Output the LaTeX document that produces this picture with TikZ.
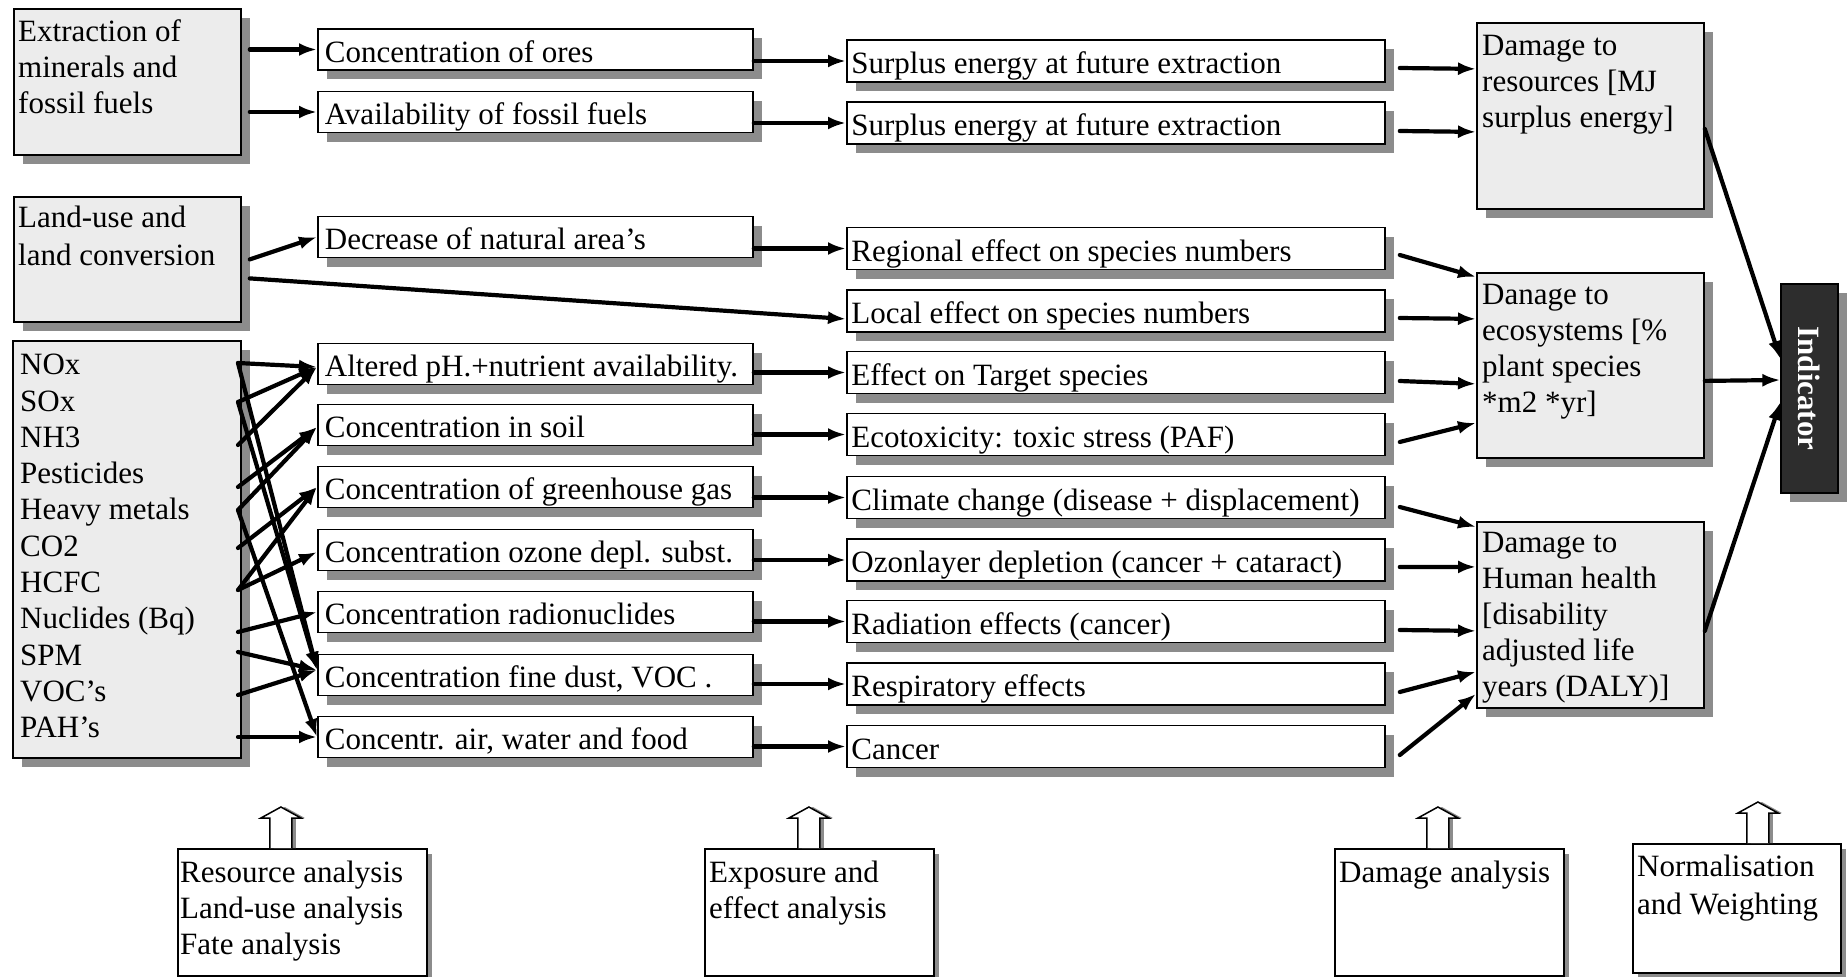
\documentclass[tikz,border=0pt]{standalone}
\usepackage{fontspec}
\setmainfont{Liberation Serif}
\usetikzlibrary{arrows.meta,shadows,calc}
\definecolor{shadowc}{RGB}{140,140,140}
\definecolor{boxgray}{RGB}{236,236,236}
\definecolor{inddark}{RGB}{45,45,45}
\newcommand{\colA}[1]{\makebox[421pt][l]{#1}}
\newcommand{\colB}[1]{\makebox[529pt][l]{#1}}
\begin{document}
\begin{tikzpicture}[x=1pt,y=-1pt,
  every node/.style={font=\fontsize{31}{36}\selectfont},
  shad/.style={drop shadow={shadow xshift=9pt,shadow yshift=-9pt,fill=shadowc,opacity=1}},
  smallshad/.style={drop shadow={shadow xshift=5pt,shadow yshift=-5pt,fill=shadowc,opacity=1}},
  graybox/.style={draw=black,line width=1.8pt,fill=boxgray,shad,inner sep=0pt,anchor=north west},
  botbox/.style={draw=black,line width=1.8pt,fill=white,smallshad,inner sep=0pt,anchor=north west},
  txt/.style={anchor=north west,inner sep=0pt,align=left},
  wboxA/.style={draw=black,line width=1.8pt,fill=white,shad,anchor=west,minimum height=41pt,
    inner xsep=7pt,inner ysep=0pt,text height=28pt,text depth=2.5pt},
  wboxB/.style={draw=black,line width=1.8pt,fill=white,shad,anchor=west,minimum height=42pt,
    inner xsep=4.5pt,inner ysep=0pt,text height=28pt,text depth=2.5pt},
  conn/.style={line width=4.2pt,line cap=round,-{Latex[length=18pt,width=13pt]}},
  hollow/.style={draw=black,line width=1.5pt,fill=white,
    drop shadow={shadow xshift=4pt,shadow yshift=0pt,fill=shadowc,opacity=1}}
]
\fill[white] (0,0) rectangle (1847,977);
\useasboundingbox (0,0) rectangle (1847,977);

% ---- left boxes
\node[graybox,minimum width=227pt,minimum height=146pt] (extr) at (13,8) {};
\node[txt] (extrt) at (18,19) {Extraction of\\minerals and\\fossil fuels};
\node[graybox,minimum width=227pt,minimum height=125pt] (land) at (13,196) {};
\node[txt,font={\fontsize{31}{38}\selectfont}] (landt) at (18,206) {Land-use and\\land conversion};
\node[graybox,minimum width=228pt,minimum height=417pt] (em) at (12,340) {};
\node[txt,font={\fontsize{31}{36.3}\selectfont}] (emt) at (20,354)
  {NOx\\SOx\\NH3\\Pesticides\\Heavy metals\\CO2\\HCFC\\Nuclides (Bq)\\SPM\\VOC’s\\PAH’s};

% ---- column 1
\node[wboxA] (ores) at (317,49.5) {\colA{Concentration of ores}};
\node[wboxA] (fos)  at (317,112)  {\colA{Availability of fossil fuels}};
\node[wboxA] (nat)  at (317,237)  {\colA{Decrease of natural area's}};
\node[wboxA] (ph)   at (317,364)  {\colA{Altered pH.+nutrient availability.}};
\node[wboxA] (soil) at (317,425)  {\colA{Concentration in soil}};
\node[wboxA] (ghg)  at (317,487)  {\colA{Concentration of greenhouse gas}};
\node[wboxA] (ozo)  at (317,550)  {\colA{Concentration ozone depl. subst.}};
\node[wboxA] (rad)  at (317,612)  {\colA{Concentration radionuclides}};
\node[wboxA] (dust) at (317,675)  {\colA{Concentration fine dust, VOC .}};
\node[wboxA] (air)  at (317,737)  {\colA{Concentr. air, water and food}};

% ---- column 2
\node[wboxB] (s1)   at (846,61)    {\colB{Surplus energy at future extraction}};
\node[wboxB] (s2)   at (846,123)   {\colB{Surplus energy at future extraction}};
\node[wboxB] (reg)  at (846,248.5) {\colB{Regional effect on species numbers}};
\node[wboxB] (loc)  at (846,311)   {\colB{Local effect on species numbers}};
\node[wboxB] (tar)  at (846,372.5) {\colB{Effect on Target species}};
\node[wboxB] (ectx) at (846,434.5) {\colB{Ecotoxicity: toxic stress (PAF)}};
\node[wboxB] (clim) at (846,497.5) {\colB{Climate change (disease + displacement)}};
\node[wboxB] (ozl)  at (846,560)   {\colB{Ozonlayer depletion (cancer + cataract)}};
\node[wboxB] (radi) at (846,621.5) {\colB{Radiation effects (cancer)}};
\node[wboxB] (resp) at (846,684)   {\colB{Respiratory effects}};
\node[wboxB] (canc) at (846,746.5) {\colB{Cancer}};

% ---- column 3
\node[graybox,minimum width=227pt,minimum height=186pt] (res) at (1476,22) {};
\node[txt] (rest) at (1482,35) {Damage to\\resources [MJ\\surplus energy]};
\node[graybox,minimum width=227pt,minimum height=185pt] (ecos) at (1476,272) {};
\node[txt] (ecost) at (1482,284) {Danage to\\ecosystems [\%\\plant species\\*m2 *yr]};
\node[graybox,minimum width=227pt,minimum height=186pt] (hum) at (1476,521) {};
\node[txt] (humt) at (1482,532) {Damage to\\Human health\\{[}disability\\adjusted life\\years (DALY)]};

% ---- indicator
\node[draw=black,line width=1.2pt,fill=inddark,shad,minimum width=57pt,minimum height=209pt,inner sep=0pt]
  (ind) at (1809.5,388.5) {};
\node[rotate=-90,text=white,inner sep=0pt,font={\fontsize{31}{36}\selectfont\bfseries}] (indt) at (ind.center) {Indicator};

% ---- bottom boxes
\node[botbox,minimum width=249pt,minimum height=127pt] (b1) at (177,848) {};
\node[txt] (b1t) at (180,861) {Resource analysis\\Land-use analysis\\Fate analysis};
\node[botbox,minimum width=229pt,minimum height=127pt] (b2) at (704,848) {};
\node[txt] (b2t) at (709,861) {Exposure and\\effect analysis};
\node[botbox,minimum width=229pt,minimum height=127pt] (b3) at (1334,848) {};
\node[txt] (b3t) at (1339,861) {Damage analysis};
\node[botbox,minimum width=208pt,minimum height=129pt] (b4) at (1632,843) {};
\node[txt,font={\fontsize{31}{38}\selectfont}] (b4t) at (1637,855) {Normalisation\\and Weighting};

% ---- hollow arrows
\coordinate (h1) at ($(b1.north)+(-21.5,0)$);
\coordinate (h2) at ($(b2.north)+(-10.5,0)$);
\coordinate (h3) at ($(b3.north)+(-11.5,0)$);
\coordinate (h4) at ($(b4.north)+(21,0)$);
\foreach \h in {h1,h2,h3,h4}
  \draw[hollow] ($(\h)+(-11,0)$) -- ++(0,-30) -- ++(-9,0) -- ++(20,-11) -- ++(20,11) -- ++(-9,0) -- ++(0,30);

% ---- left -> column 1
\draw[conn] ($(extr.east |- ores.west)+(8,0)$) -- (ores.west);
\draw[conn] ($(extr.east |- fos.west)+(8,0)$) -- (fos.west);
\draw[conn] ($(land.east)+(8,0)$) -- (nat.west);
\draw[conn] ($(land.east)+(8,19)$) -- ($(loc.west)+(0,8)$);

% ---- emissions -> column 1
\coordinate (eNOx) at (238,363);
\coordinate (eSOx) at (238,402);
\coordinate (eNH) at (238,445);
\coordinate (ePest) at (238,487);
\coordinate (eHM) at (238,510);
\coordinate (eCO) at (238,548);
\coordinate (eHCFC) at (238,590);
\coordinate (eNucl) at (238,632);
\coordinate (eSPM) at (238,652);
\coordinate (eVOC) at (238,695);
\coordinate (ePAH) at (238,737);
\coordinate (tph) at ($(ph.west)+(0,3)$);
\coordinate (tsoil) at ($(soil.west)+(0,2)$);
\coordinate (tghg) at (ghg.west);
\coordinate (tozo) at ($(ozo.west)+(0,2)$);
\coordinate (trad) at (rad.west);
\coordinate (tdust) at ($(dust.west)+(0,-5)$);
\coordinate (tair) at (air.west);
\foreach \s/\t in {eNOx/tph, eSOx/tph, eNH/tph, ePest/tsoil, eHM/tsoil, eCO/tghg, eHCFC/tghg,
  eHCFC/tozo, eNucl/trad, eSPM/tdust, eVOC/tdust, ePAH/tair, eNOx/tdust, eSOx/tdust, eHM/tair}
  \draw[conn] (\s) -- (\t);

% ---- column 1 -> column 2
\foreach \a/\b in {ores/s1, fos/s2, nat/reg, ph/tar, soil/ectx, ghg/clim, ozo/ozl, rad/radi, dust/resp, air/canc}
  \draw[conn] (\a.east |- \b.west) -- (\b.west);

% ---- column 2 -> column 3
\foreach \a/\da/\b/\db in {s1/7/res/-47, s2/8/res/16, reg/6.5/ecos/-88.5, loc/7/ecos/-46.5,
  tar/8.5/ecos/18.5, ectx/7.5/ecos/57.5, clim/9.5/hum/-88, ozl/7/hum/-48, radi/8.5/hum/16,
  resp/8/hum/57, canc/8.5/hum/79}
  \draw[conn] ($(\a.east)+(14,\da)$) -- ($(\b.west)+(0,\db)$);

% ---- column 3 -> indicator
\draw[conn] ($(res.east)+(0,13)$) -- ($(ind.west)+(0,-29.5)$);
\draw[conn] ($(ecos.east)+(0,15.5)$) -- ($(ind.west)+(0,-8.5)$);
\draw[conn] ($(hum.east)+(0,16)$) -- ($(ind.west)+(0,13.5)$);
\end{tikzpicture}
\end{document}
